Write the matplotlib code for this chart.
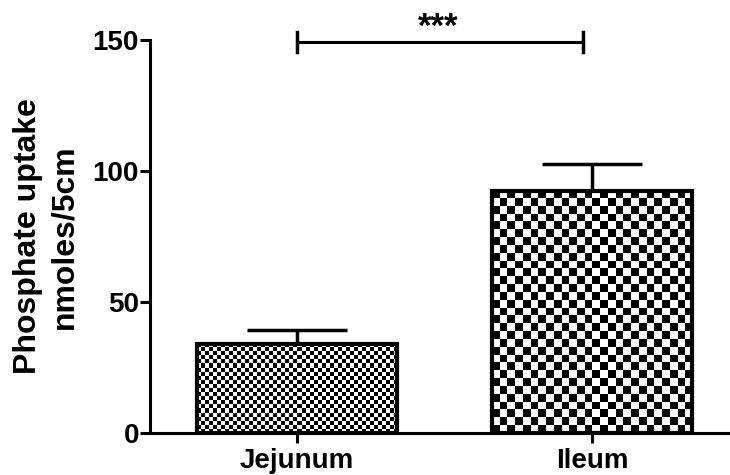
"""Phosphate uptake bar chart"""

import numpy as np
import matplotlib.pyplot as plt

categories = ['Jejunum', 'Ileum']
means = [34, 92.5]
sem = [5.5, 10]
check_px = [4, 7.8]          # size of checker squares in pixels
sig_x = [0, 0.97]
sig_y = 149.2
sig_text = '***'

plt.rcParams['font.family'] = ['Liberation Sans', 'DejaVu Sans']
plt.rcParams['font.weight'] = 'bold'

fig = plt.figure(figsize=(7.3, 4.75), dpi=100)
ax = fig.add_axes([0.2055, 0.0884, 0.7945, 0.8274])

x = np.arange(len(categories))
width = 0.678
ax.set_xlim(-0.498, 1.468)
ax.set_ylim(0, 150)

bars = ax.bar(x, means, width, facecolor='none', edgecolor='black',
              linewidth=3, zorder=3)

# checkerboard fill clipped to each bar
fig.canvas.draw()
for bar, size in zip(bars, check_px):
    x0, y0 = bar.get_x(), bar.get_y()
    x1, y1 = x0 + bar.get_width(), y0 + bar.get_height()
    (px0, py0), (px1, py1) = ax.transData.transform([(x0, y0), (x1, y1)])
    nx = int(round((px1 - px0) / size))
    ny = int(round((py1 - py0) / size))
    board = (np.add.outer(np.arange(ny), np.arange(nx)) % 2).astype(float)
    im = ax.imshow(board, cmap='gray', vmin=0, vmax=1,
                   extent=(x0, x1, y0, y1), origin='upper',
                   interpolation='nearest', aspect='auto', zorder=2)
    im.set_clip_path(bar)
ax.set_xlim(-0.498, 1.468)
ax.set_ylim(0, 150)

ax.errorbar(x, means, yerr=[[0, 0], sem], fmt='none', ecolor='black',
            elinewidth=2.5, capsize=36, capthick=2.5, zorder=1)

# significance bracket
ax.plot(sig_x, [sig_y, sig_y], color='black', lw=2.2, clip_on=False)
for sx in sig_x:
    ax.plot([sx, sx], [sig_y - 3.8, sig_y + 3.8], color='black', lw=2.5,
            clip_on=False)
ax.text(np.mean(sig_x) - 0.005, sig_y - 0.5, sig_text, ha='center',
        va='bottom', fontsize=25, fontweight='bold')

ax.spines['top'].set_visible(False)
ax.spines['right'].set_visible(False)
ax.spines['left'].set_linewidth(2.2)
ax.spines['bottom'].set_linewidth(2.2)

ax.set_yticks([0, 50, 100, 150])
ax.set_xticks(x)
ax.set_xticklabels(categories)
ax.tick_params(axis='both', length=7, width=2.2, labelsize=20, pad=1)
ax.tick_params(axis='x', pad=4)
for lab in ax.get_xticklabels() + ax.get_yticklabels():
    lab.set_fontweight('bold')

ax.set_ylabel('Phosphate uptake\nnmoles/5cm', fontsize=23,
              fontweight='bold', linespacing=1.3)
ax.yaxis.set_label_coords(-0.121, 0.5)

fig.savefig('out.png', dpi=100)
